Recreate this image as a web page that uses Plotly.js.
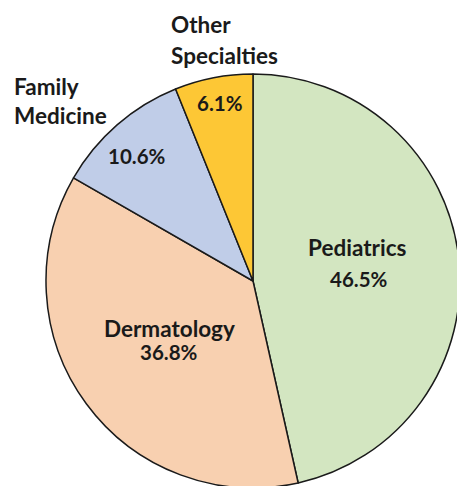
<!DOCTYPE html>
<html>
<head>
<meta charset="utf-8">
<script src="https://cdn.plot.ly/plotly-3.0.1.min.js"></script>
<style>
html,body{margin:0;padding:0;overflow:hidden;background:#fff;}
#chart{width:470px;height:490px;}
</style>
</head>
<body>
<div id="chart"></div>
<script>
// Data
const categories = ["Pediatrics", "Dermatology", "Family Medicine", "Other Specialties"];
const shares = [46.5, 36.8, 10.6, 6.1];
const sliceColors = ["#d3e6c1", "#f8d0b0", "#c0cde8", "#fdc735"];

const W = 470, H = 490;
const px = x => x / W;
const py = y => 1 - y / H;
const FONT = "Lato, 'Open Sans', sans-serif";

function ann(text, x, y, size, anchor) {
  return {
    text: "<b>" + text + "</b>", xref: "paper", yref: "paper",
    x: px(x), y: py(y), xanchor: anchor || "center", yanchor: "middle",
    showarrow: false, font: {family: FONT, size: size, color: "#1a1a1a"}
  };
}
const pct = v => v.toFixed(1) + "%";
const LS = 22.5, PS = 20.5;

const annotations = [
  // Pediatrics (inside)
  ann(categories[0], 357, 248, LS),
  ann(pct(shares[0]), 359, 279, PS),
  // Dermatology (inside)
  ann(categories[1], 169, 328, LS),
  ann(pct(shares[1]), 169, 352, PS),
  // Family Medicine (outside label, inside value)
  ann(categories[2].split(" ")[0], 12, 86, LS, "left"),
  ann(categories[2].split(" ")[1], 12, 115, LS, "left"),
  ann(pct(shares[2]), 137, 156, PS),
  // Other Specialties (outside label, inside value)
  ann(categories[3].split(" ")[0], 169, 25, LS, "left"),
  ann(categories[3].split(" ")[1], 169, 55, LS, "left"),
  ann(pct(shares[3]), 220, 103, PS)
];

const trace = {
  type: "pie",
  labels: categories,
  values: shares,
  sort: false,
  direction: "clockwise",
  rotation: 0,
  textinfo: "none",
  hoverinfo: "label+percent",
  marker: {colors: sliceColors, line: {color: "#1a1a1a", width: 1.5}},
  domain: {x: [46 / W, 460 / W], y: [2 / H, 416 / H]},
  showlegend: false
};

Plotly.newPlot("chart", [trace], {
  width: W, height: H,
  margin: {l: 0, r: 0, t: 0, b: 0},
  paper_bgcolor: "#ffffff",
  showlegend: false,
  annotations: annotations
}, {displayModeBar: false, staticPlot: true});
</script>
</body>
</html>
